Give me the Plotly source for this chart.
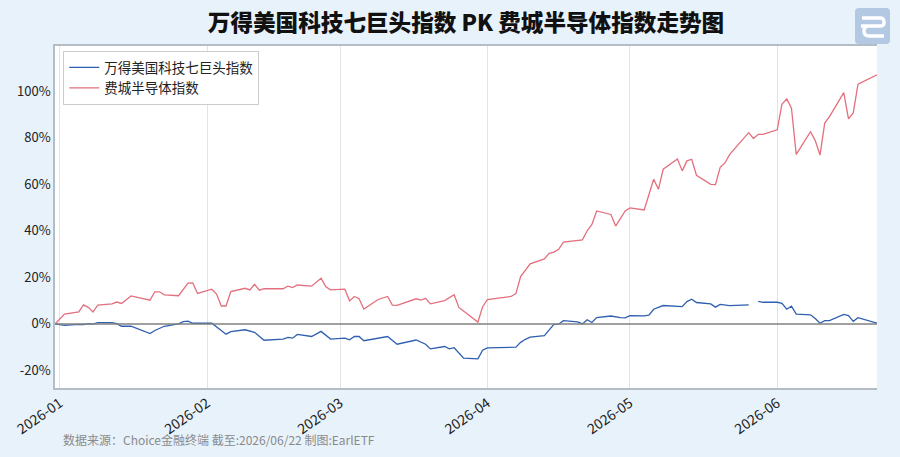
import plotly.graph_objects as go

red_name = "费城半导体指数"
blue_name = "万得美国科技七巨头指数"

red_dates = ["2025-12-31","2026-01-02","2026-01-05","2026-01-06","2026-01-07","2026-01-08","2026-01-09",
             "2026-01-12","2026-01-13","2026-01-14","2026-01-16","2026-01-20","2026-01-21","2026-01-22",
             "2026-01-23","2026-01-26","2026-01-28","2026-01-29","2026-01-30","2026-02-02","2026-02-03",
             "2026-02-04","2026-02-05","2026-02-06","2026-02-09","2026-02-10","2026-02-11","2026-02-12",
             "2026-02-13","2026-02-17","2026-02-18","2026-02-19","2026-02-20","2026-02-23","2026-02-25",
             "2026-02-26","2026-02-27","2026-03-02","2026-03-03","2026-03-04","2026-03-05","2026-03-06",
             "2026-03-09","2026-03-11","2026-03-12","2026-03-13","2026-03-17","2026-03-18","2026-03-19",
             "2026-03-20","2026-03-23","2026-03-25","2026-03-26","2026-03-30","2026-03-31","2026-04-01",
             "2026-04-06","2026-04-07","2026-04-08","2026-04-10","2026-04-13","2026-04-14","2026-04-15",
             "2026-04-16","2026-04-17","2026-04-21","2026-04-22","2026-04-23","2026-04-24","2026-04-27",
             "2026-04-28","2026-04-30","2026-05-01","2026-05-04","2026-05-06","2026-05-07","2026-05-08",
             "2026-05-11","2026-05-12","2026-05-13","2026-05-14","2026-05-15","2026-05-18","2026-05-19",
             "2026-05-20","2026-05-21","2026-05-22","2026-05-26","2026-05-27","2026-05-28","2026-05-29",
             "2026-06-01","2026-06-02","2026-06-03","2026-06-04","2026-06-05","2026-06-08","2026-06-09",
             "2026-06-10","2026-06-11","2026-06-12","2026-06-15","2026-06-16","2026-06-17","2026-06-18",
             "2026-06-22"]
red_vals = [0, 4.2, 5.2, 8.2, 7.1, 5.1, 8.1,
            8.6, 9.4, 8.8, 12.0, 10.2, 13.8, 13.8,
            12.5, 12.1, 17.5, 17.6, 13.1, 14.9, 12.8,
            7.7, 7.7, 13.9, 15.3, 14.6, 17.0, 14.5,
            15.1, 15.1, 16.2, 15.6, 16.7, 16.2, 19.6,
            15.9, 14.6, 14.9, 9.9, 11.8, 10.8, 6.4,
            10.5, 11.8, 8.1, 8.0, 10.8, 10.2, 11.0,
            8.6, 10.0, 12.5, 7.1, 0.8, 7.4, 10.4,
            11.8, 13.0, 20.3, 25.8, 27.9, 30.3, 30.8,
            32.0, 35.1, 36.1, 40.0, 42.7, 48.5, 47.0,
            42.0, 48.5, 49.8, 48.9, 62.1, 57.8, 66.4,
            70.8, 65.7, 70.0, 70.7, 63.8, 59.9, 59.8,
            67.2, 69.1, 72.8, 82.1, 79.6, 81.4, 81.4,
            83.3, 94.3, 96.6, 92.6, 72.8, 82.5, 78.7,
            72.5, 86.2, 89.0, 99.3, 88.0, 90.6, 102.9,
            106.9]

blue_dates = ["2025-12-31","2026-01-02","2026-01-05","2026-01-06","2026-01-07","2026-01-08","2026-01-09",
              "2026-01-12","2026-01-13","2026-01-14","2026-01-16","2026-01-20","2026-01-21","2026-01-23",
              "2026-01-26","2026-01-27","2026-01-28","2026-01-29","2026-02-02","2026-02-03","2026-02-05",
              "2026-02-06","2026-02-09","2026-02-11","2026-02-13","2026-02-17","2026-02-18","2026-02-19",
              "2026-02-20","2026-02-23","2026-02-25","2026-02-27","2026-03-02","2026-03-03","2026-03-04",
              "2026-03-05","2026-03-06","2026-03-11","2026-03-12","2026-03-13","2026-03-17","2026-03-18",
              "2026-03-19","2026-03-20","2026-03-23","2026-03-24","2026-03-25","2026-03-27","2026-03-30",
              "2026-03-31","2026-04-01","2026-04-07","2026-04-08","2026-04-09","2026-04-10","2026-04-13",
              "2026-04-15","2026-04-16","2026-04-17","2026-04-20","2026-04-21","2026-04-22","2026-04-23",
              "2026-04-24","2026-04-27","2026-04-29","2026-04-30","2026-05-01","2026-05-04","2026-05-05",
              "2026-05-06","2026-05-08","2026-05-12","2026-05-13","2026-05-14","2026-05-15","2026-05-18",
              "2026-05-19","2026-05-20","2026-05-22","2026-05-26","2026-05-27","2026-05-28","2026-05-29",
              "2026-06-01","2026-06-02","2026-06-03","2026-06-04","2026-06-05","2026-06-08","2026-06-09",
              "2026-06-10","2026-06-11","2026-06-12","2026-06-15","2026-06-16","2026-06-17","2026-06-18",
              "2026-06-22"]
blue_vals = [0, -0.6, -0.2, -0.3, 0.1, -0.1, 0.6,
             0.6, 0.1, -1.0, -1.0, -4.1, -2.8, -1.0,
             0.0, 1.0, 1.2, 0.3, 0.3, -1.4, -4.4,
             -3.3, -2.5, -3.6, -7.0, -6.5, -5.8, -6.1,
             -4.5, -5.4, -3.2, -6.5, -6.1, -6.8, -5.4,
             -5.4, -7.2, -5.4, -6.9, -8.7, -6.9, -7.9,
             -8.7, -10.7, -9.7, -10.7, -10.2, -14.7, -15.0,
             -11.3, -10.3, -10.0, -7.9, -6.6, -5.7, -5.0,
             -0.2, -0.1, 1.4, 0.9, 0.0, 1.8, 0.6,
             2.7, 3.4, 2.7, 2.6, 3.6, 3.5, 3.8,
             6.3, 7.9, 7.4, 9.6, 10.6, 9.2, 8.6,
             7.2, 8.4, 7.9, 8.2, None, 9.7, 9.3,
             9.3, 8.8, 6.3, 7.6, 4.2, 3.9, 2.3,
             0.3, 1.4, 1.4, 4.1, 3.6, 1.1, 2.7,
             0.3]

y_ticks = [-20, 0, 20, 40, 60, 80, 100]
y_tick_text = ["-20%", "0%", "20%", "40%", "60%", "80%", "100%"]
x_ticks = ["2026-01-01", "2026-02-01", "2026-03-01", "2026-04-01", "2026-05-01", "2026-06-01"]
x_tick_text = ["2026-01", "2026-02", "2026-03", "2026-04", "2026-05", "2026-06"]

title_text = "万得美国科技七巨头指数 PK 费城半导体指数走势图"
source_text = "数据来源：Choice金融终端 截至:2026/06/22 制图:EarlETF"

FONT = "Noto Sans CJK SC"

fig = go.Figure()
fig.add_trace(go.Scatter(x=blue_dates, y=blue_vals, mode="lines", name=blue_name,
                         line=dict(color="#2f5fb0", width=1.3), connectgaps=False))
fig.add_trace(go.Scatter(x=red_dates, y=red_vals, mode="lines", name=red_name,
                         line=dict(color="#e46f7d", width=1.3)))

W, H = 900, 457
L, R, T, B = 55, 23, 46, 69
pw, ph = W - L - R, H - T - B

def px(x):
    return (x - L) / pw

def py(y):
    return (H - B - y) / ph

shapes = []
# zero line
shapes.append(dict(type="line", xref="paper", yref="y", x0=0, x1=1, y0=0, y1=0,
                   line=dict(color="#808080", width=1.5), layer="above"))
# logo
x0, x1, y0, y1, r = 855, 890, 8, 44, 4
path = (f"M {px(x0+r)},{py(y0)} L {px(x1-r)},{py(y0)} Q {px(x1)},{py(y0)} {px(x1)},{py(y0+r)} "
        f"L {px(x1)},{py(y1-r)} Q {px(x1)},{py(y1)} {px(x1-r)},{py(y1)} "
        f"L {px(x0+r)},{py(y1)} Q {px(x0)},{py(y1)} {px(x0)},{py(y1-r)} "
        f"L {px(x0)},{py(y0+r)} Q {px(x0)},{py(y0)} {px(x0+r)},{py(y0)} Z")
shapes.append(dict(type="path", xref="paper", yref="paper", path=path,
                   fillcolor="#b3c8e2", line=dict(width=0)))
glyph = (f"M {px(862)},{py(18)} L {px(880)},{py(18)} Q {px(884)},{py(18)} {px(884)},{py(22)} "
         f"L {px(884)},{py(23)} Q {px(884)},{py(26)} {px(880)},{py(26)} L {px(861)},{py(26)} "
         f"M {px(869)},{py(26)} Q {px(864)},{py(26)} {px(864)},{py(31)} Q {px(864)},{py(36)} {px(869)},{py(36)} "
         f"L {px(884)},{py(36)}")
shapes.append(dict(type="path", xref="paper", yref="paper", path=glyph,
                   line=dict(color="white", width=3.4)))

fig.update_layout(
    width=W, height=H,
    margin=dict(l=L, r=R, t=T, b=B, autoexpand=False),
    paper_bgcolor="#e8f2fb",
    plot_bgcolor="white",
    font=dict(family=FONT, color="#333333", size=13),
    title=dict(text=title_text, xref="paper", x=0.5, xanchor="center",
               yref="container", y=1 - 23 / H, yanchor="middle",
               font=dict(family=FONT, size=22.6, color="#111111", weight=900)),
    showlegend=True,
    legend=dict(x=0.01, y=0.985, xanchor="left", yanchor="top",
                bgcolor="white", bordercolor="#cccccc", borderwidth=1,
                font=dict(family=FONT, size=13.5, color="#222222"),
                tracegroupgap=0, itemwidth=30),
    shapes=shapes,
    annotations=[dict(text=source_text, xref="paper", yref="paper", x=px(61), y=py(440),
                      xanchor="left", yanchor="middle", showarrow=False,
                      font=dict(family=FONT, size=12, color="#8a8a8a"))],
)

fig.update_xaxes(type="date", range=["2025-12-31", "2026-06-22"],
                 tickvals=x_ticks, ticktext=x_tick_text, tickangle=-35,
                 tickfont=dict(family=FONT, size=14, color="#222222"),
                 showgrid=True, gridcolor="#e3e3e3", gridwidth=1,
                 showline=True, linecolor="#b4bcc6", linewidth=1.5, mirror=True,
                 ticks="", zeroline=False)
fig.update_yaxes(range=[-27.5, 119.3], tickvals=y_ticks, ticktext=y_tick_text,
                 tickfont=dict(family=FONT, size=13, color="#222222"),
                 showgrid=False, zeroline=False,
                 showline=True, linecolor="#b4bcc6", linewidth=1.5, ticks="")

fig.write_html("out.html")
